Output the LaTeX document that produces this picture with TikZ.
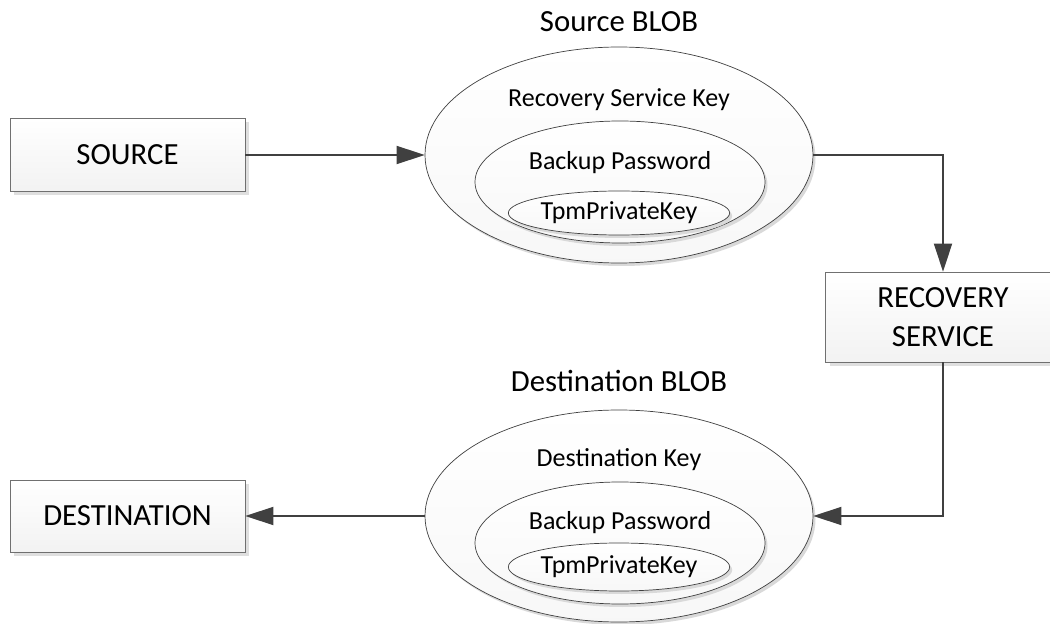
\documentclass[tikz,border=0pt]{standalone}
\usepackage{fontspec}
\setmainfont{Carlito}
\usetikzlibrary{shapes.geometric,arrows.meta,shadows}
\definecolor{linegray}{HTML}{404040}
\definecolor{edgegray}{HTML}{707070}
\begin{document}
\begin{tikzpicture}[
    box/.style={draw=edgegray,rectangle,top color=white,bottom color=gray!10,
        minimum width=4.7cm,font=\fontsize{17.5}{21}\selectfont,align=center,
        drop shadow={shadow xshift=0.08cm,shadow yshift=-0.08cm,fill=gray!25,opacity=1}},
    blob/.style={draw=linegray,ellipse,inner sep=0pt,top color=white,bottom color=gray!6,
        drop shadow={shadow xshift=0.05cm,shadow yshift=-0.06cm,fill=gray!30,opacity=1}},
    keytext/.style={font=\fontsize{14.8}{18}\selectfont},
    title/.style={font=\fontsize{17.5}{21}\selectfont},
    flow/.style={draw=linegray,line width=1.1pt,-{Triangle[length=0.56cm,width=0.36cm]}}
  ]
    \useasboundingbox (0,0) rectangle (21,12.46);
    \clip (0,0) rectangle (21,12.46);
    % boxes
    \node[box,minimum height=1.46cm] (source) at (2.55,9.36) {SOURCE};
    \node[box,minimum height=1.44cm] (dest) at (2.55,2.14) {DESTINATION};
    \node[box,minimum height=1.8cm] (recovery) at (18.86,6.12) {RECOVERY\\[1.2pt]SERVICE};
    % source blob
    \node[title] (srctitle) at (12.38,12.02) {Source BLOB};
    \node[blob,minimum width=7.76cm,minimum height=4.32cm] (srcblob) at (12.38,9.36) {};
    \node[keytext] (srckey) at (12.38,10.46) {Recovery Service Key};
    \node[blob,minimum width=5.8cm,minimum height=2.44cm] (srcpass) at (12.4,8.82) {};
    \node[keytext] (srcpasstext) at (12.4,9.2) {Backup Password};
    \node[blob,keytext,minimum width=3.74cm,minimum height=0.88cm] (srctpm) at (12.38,8.2) {TpmPrivateKey};
    % destination blob
    \node[title] (dsttitle) at (12.38,4.84) {Destination BLOB};
    \node[blob,minimum width=7.76cm,minimum height=4.24cm] (dstblob) at (12.38,2.14) {};
    \node[keytext] (dstkey) at (12.38,3.26) {Destination Key};
    \node[blob,minimum width=5.8cm,minimum height=2.44cm] (dstpass) at (12.4,1.6) {};
    \node[keytext] (dstpasstext) at (12.4,2.0) {Backup Password};
    \node[blob,keytext,minimum width=3.74cm,minimum height=0.96cm] (dsttpm) at (12.38,1.12) {TpmPrivateKey};
    % flow
    \draw[flow] (source) -- (srcblob);
    \draw[flow] (srcblob.east) -| (recovery);
    \draw[flow] (recovery) |- (dstblob.east);
    \draw[flow] (dstblob) -- (dest);
\end{tikzpicture}
\end{document}
